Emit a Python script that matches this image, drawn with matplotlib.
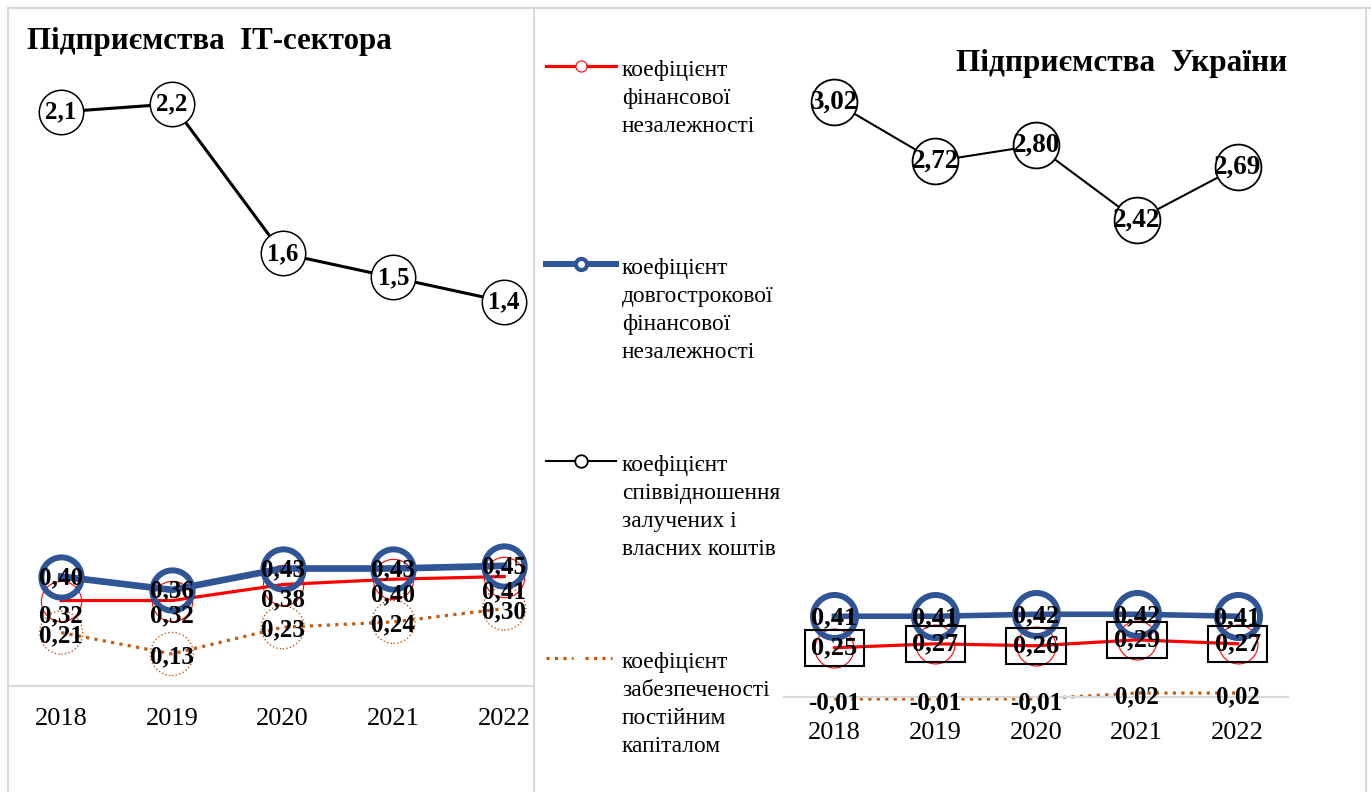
import numpy as np
import matplotlib.pyplot as plt

plt.rcParams['font.family'] = ['Liberation Serif', 'DejaVu Serif']

years = ["2018", "2019", "2020", "2021", "2022"]

# Підприємства IT-сектора (labels as printed)
it_fin = [0.32, 0.32, 0.38, 0.40, 0.41]
it_long = [0.41, 0.36, 0.44, 0.44, 0.45]
it_ratio = [2.15, 2.18, 1.62, 1.53, 1.44]
it_cover = [0.20, 0.12, 0.22, 0.24, 0.29]
it_fin_lbl = ["0,32", "0,32", "0,38", "0,40", "0,41"]
it_long_lbl = ["0,40", "0,36", "0,43", "0,43", "0,45"]
it_ratio_lbl = ["2,1", "2,2", "1,6", "1,5", "1,4"]
it_cover_lbl = ["0,21", "0,13", "0,23", "0,24", "0,30"]

# Підприємства України
ua_fin = [0.25, 0.27, 0.26, 0.29, 0.27]
ua_long = [0.41, 0.41, 0.42, 0.42, 0.41]
ua_ratio = [3.02, 2.72, 2.80, 2.42, 2.69]
ua_cover = [-0.01, -0.01, -0.01, 0.02, 0.02]

names = ["коефіцієнт\nфінансової\nнезалежності",
         "коефіцієнт\nдовгострокової\nфінансової\nнезалежності",
         "коефіцієнт\nспіввідношення\nзалучених і\nвласних коштів",
         "коефіцієнт\nзабезпеченості\nпостійним\nкапіталом"]

RED = "#FF0000"
BLUE = "#2F5597"
ORANGE = "#C55A11"
GRID = "#D9D9D9"

W, H = 1371, 792
fig = plt.figure(figsize=(W / 100, H / 100), dpi=100)


def box(x0, y0, x1, y1):
    return [x0 / W, 1 - y1 / H, (x1 - x0) / W, (y1 - y0) / H]


def fmt(v):
    return f"{v:.2f}".replace(".", ",")


def labels(ax, x, y, txt, dy=0, size=18, **kw):
    for xi, yi, t in zip(x, y, txt):
        ax.annotate(t, (xi, yi), xytext=(0, dy), textcoords="offset points",
                    ha="center", va="center", fontsize=size, fontweight="bold",
                    zorder=10, annotation_clip=False, **kw)


def style(ax, pad):
    ax.set_xticks(range(5))
    ax.set_xticklabels(years, fontsize=19)
    ax.tick_params(length=0, pad=pad)
    ax.set_yticks([])
    for s in ["top", "left", "right"]:
        ax.spines[s].set_visible(False)
    ax.spines["bottom"].set_color(GRID)
    ax.spines["bottom"].set_linewidth(1.5)
    ax.patch.set_alpha(0)


x = np.arange(5)

# ---- left chart
ax1 = fig.add_axes(box(8, 8, 533, 686))
ax1.set_xlim(-0.48, 4.26)
ax1.set_ylim(0, 678 / 267)
style(ax1, 16)

ax1.plot(x, it_fin, color=RED, lw=2.3, marker="o", ms=29, mfc="none", mec=RED, mew=0.8, clip_on=False, zorder=3)
ax1.plot(x, it_long, color=BLUE, lw=4.8, marker="o", ms=29, mfc="none", mec=BLUE, mew=4.3, clip_on=False, zorder=4)
ax1.plot(x, it_ratio, color="black", lw=2.2, marker="o", ms=32, mfc="white", mec="black", mew=1.1, clip_on=False, zorder=5)
ax1.plot(x, it_cover, color=ORANGE, lw=2.3, ls=":", clip_on=False, zorder=2)
ax1.scatter(x, it_cover, s=31 ** 2, facecolors="none", edgecolors=ORANGE, linestyle=":", linewidths=1, clip_on=False, zorder=2)

labels(ax1, x, it_ratio, it_ratio_lbl)
labels(ax1, x, it_long, it_long_lbl, dy=-1)
labels(ax1, x, it_fin, it_fin_lbl, dy=-11)
labels(ax1, x, it_cover, it_cover_lbl, dy=-2)

fig.text(27 / W, 1 - 42 / H, "Підприємства  ІТ-сектора", fontsize=22.3, fontweight="bold", va="center", ha="left")

# ---- right chart
ax2 = fig.add_axes(box(784, 30, 1288, 697))
ax2.set_xlim(-0.5, 4.5)
ax2.set_ylim(0, 667 / 197)
style(ax2, 18)

ax2.plot(x, ua_fin, color=RED, lw=2.3, marker="o", ms=28, mfc="none", mec=RED, mew=0.8, clip_on=False, zorder=3)
ax2.plot(x, ua_long, color=BLUE, lw=4.0, marker="o", ms=31, mfc="none", mec=BLUE, mew=4.3, clip_on=False, zorder=4)
ax2.plot(x, ua_ratio, color="black", lw=1.5, marker="o", ms=33, mfc="white", mec="black", mew=1.3, clip_on=False, zorder=5)
ax2.plot(x, ua_cover, color=ORANGE, lw=2.3, ls=":", clip_on=False, zorder=2)

labels(ax2, x, ua_ratio, [fmt(v) for v in ua_ratio], size=19.5)
labels(ax2, x, ua_long, [fmt(v) for v in ua_long], dy=-1, size=19)
labels(ax2, x, ua_fin, [fmt(v) for v in ua_fin], size=19,
       bbox=dict(boxstyle="square,pad=0.25", fc="none", ec="black", lw=1.5))
labels(ax2, x, ua_cover, [fmt(v) for v in ua_cover], dy=-3, size=18)

fig.text(1122 / W, 1 - 64 / H, "Підприємства  України", fontsize=22.5, fontweight="bold", va="center", ha="center")

# ---- legend
axl = fig.add_axes(box(540, 0, 790, 792))
axl.set_xlim(540, 790)
axl.set_ylim(792, 0)
axl.axis("off")
lines = [dict(color=RED, lw=2.3), dict(color=BLUE, lw=4.3),
         dict(color="black", lw=1.5), dict(color=ORANGE, lw=2.3, ls=":")]
marks = [dict(marker="o", ms=8, mfc="white", mec=RED, mew=0.8),
         dict(marker="o", ms=8, mfc="white", mec=BLUE, mew=3),
         dict(marker="o", ms=9, mfc="white", mec="black", mew=1.3),
         None]
ys = [66, 264, 461, 658]
for ln, mk, yy, name in zip(lines, marks, ys, names):
    if mk is None:
        axl.plot([546, 573], [yy, yy], **ln)
        axl.plot([585, 612], [yy, yy], **ln)
    else:
        axl.plot([546, 616], [yy, yy], **ln)
        axl.plot([581], [yy], ls="none", **mk)
    axl.text(622, yy - 6, name, fontsize=16.8, va="top", ha="left", linespacing=1.43)

# panel frames
for xs, ysg in [([8, 1371], [8, 8]), ([8, 8], [8, 792]), ([534, 534], [8, 792]), ([1366, 1366], [8, 792])]:
    fig.add_artist(plt.Line2D([v / W for v in xs], [1 - v / H for v in ysg], color=GRID, lw=1.5))

fig.savefig("out.png", dpi=100)
